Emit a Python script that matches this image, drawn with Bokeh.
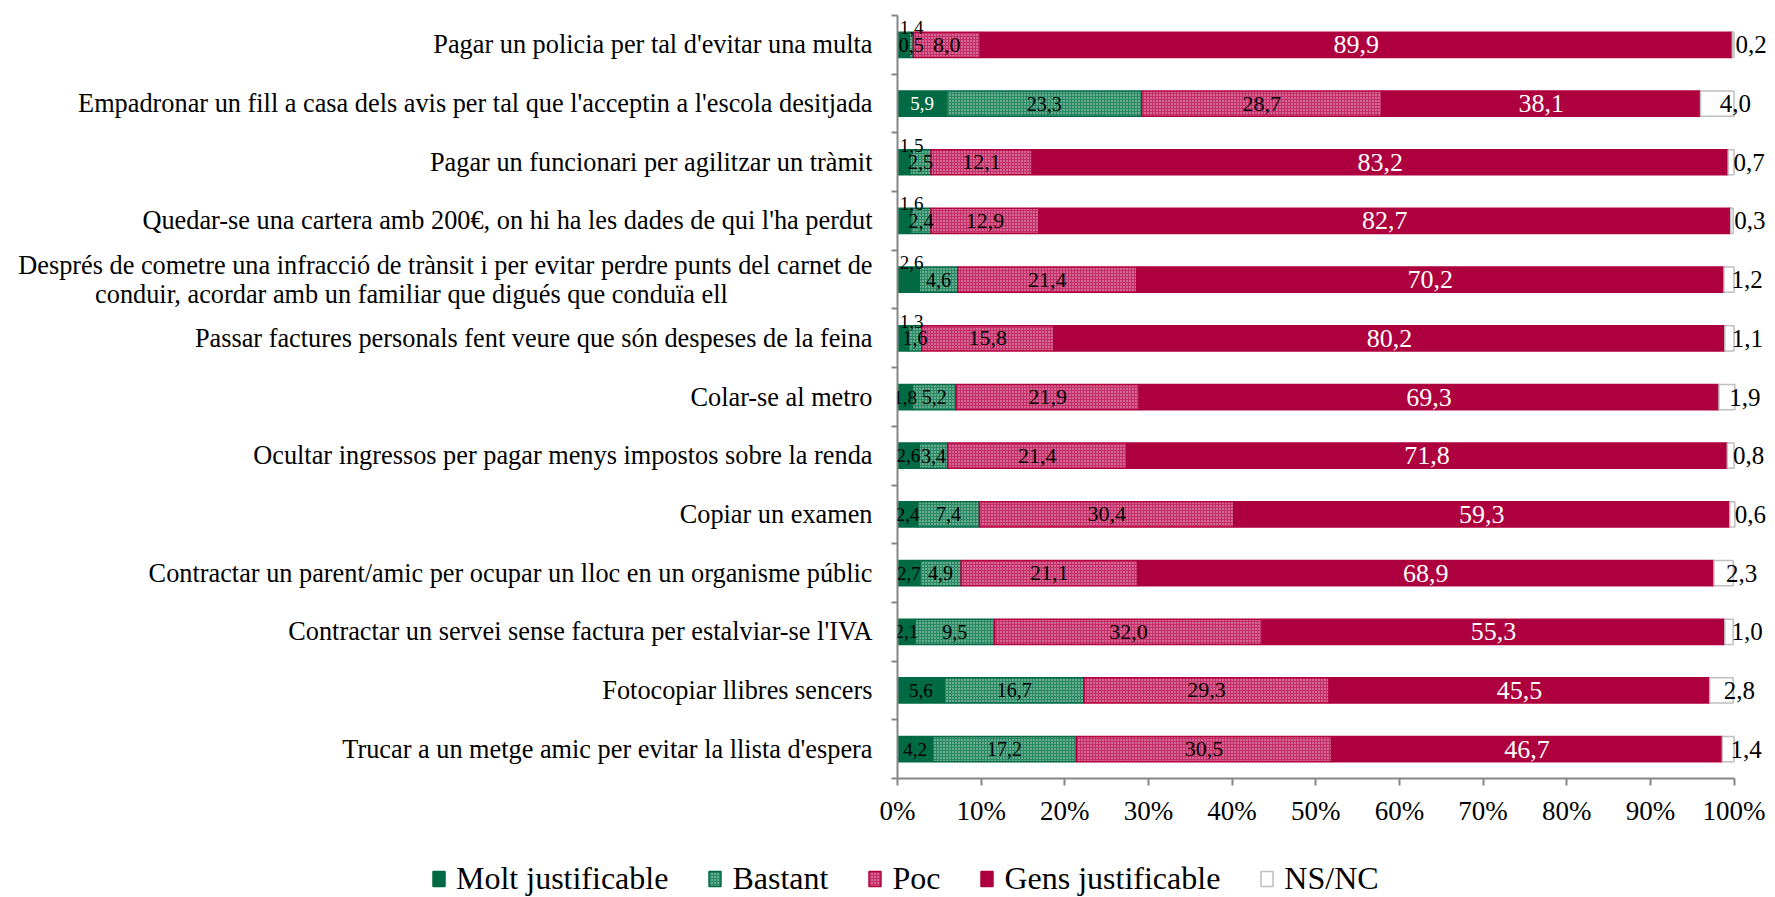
from bokeh.plotting import figure
from bokeh.models import Range1d, FixedTicker, ColumnDataSource, Legend, LegendItem, LabelSet
from bokeh.embed import file_html
from bokeh.resources import INLINE
import numpy as np

categories = [
    "Pagar un policia per tal d'evitar una multa",
    "Empadronar un fill a casa dels avis per tal que l'acceptin a l'escola desitjada",
    "Pagar un funcionari per agilitzar un tràmit",
    "Quedar-se una cartera amb 200€, on hi ha les dades de qui l'ha perdut",
    "Després de cometre una infracció de trànsit i per evitar perdre punts del carnet de\nconduir, acordar amb un familiar que digués que conduïa ell" + "\u00a0" * 22,
    "Passar factures personals fent veure que són despeses de la feina",
    "Colar-se al metro",
    "Ocultar ingressos per pagar menys impostos sobre la renda",
    "Copiar un examen",
    "Contractar un parent/amic per ocupar un lloc en un organisme públic",
    "Contractar un servei sense factura per estalviar-se l'IVA",
    "Fotocopiar llibres sencers",
    "Trucar a un metge amic per evitar la llista d'espera",
]
molt = [1.4, 5.9, 1.5, 1.6, 2.6, 1.3, 1.8, 2.6, 2.4, 2.7, 2.1, 5.6, 4.2]
bastant = [0.5, 23.3, 2.5, 2.4, 4.6, 1.6, 5.2, 3.4, 7.4, 4.9, 9.5, 16.7, 17.2]
poc = [8.0, 28.7, 12.1, 12.9, 21.4, 15.8, 21.9, 21.4, 30.4, 21.1, 32.0, 29.3, 30.5]
gens = [89.9, 38.1, 83.2, 82.7, 70.2, 80.2, 69.3, 71.8, 59.3, 68.9, 55.3, 45.5, 46.7]
nsnc = [0.2, 4.0, 0.7, 0.3, 1.2, 1.1, 1.9, 0.8, 0.6, 2.3, 1.0, 2.8, 1.4]
series_names = ["Molt justificable", "Bastant", "Poc", "Gens justificable", "NS/NC"]
x_ticks = list(range(0, 101, 10))
x_tick_labels = [f"{t}%" for t in x_ticks]

# label styling for the first series (style only)
molt_label_colors = ["black", "white"] + ["black"] * 11
molt_label_above = [True, False, True, True, True, True] + [False] * 7

SERIF = "Liberation Serif"
n = len(categories)
ys = list(range(n))

p = figure(width=1770, height=845,
           x_range=Range1d(0, 104.36), y_range=Range1d(n - 0.5, -0.756),
           output_backend="svg", toolbar_location=None,
           min_border_left=897, min_border_right=0,
           min_border_top=0, min_border_bottom=67)
p.outline_line_color = None
p.xgrid.visible = False
p.ygrid.visible = False
p.background_fill_color = "white"
p.border_fill_color = "white"

series = [molt, bastant, poc, gens, nsnc]
styles = [
    dict(fill_color="#006A45", line_color="#006A45"),
    dict(fill_color="#2A8A64", line_color="#006A45", hatch_pattern="dot",
         hatch_color="white", hatch_alpha=0.7, hatch_scale=3, hatch_weight=1.2),
    dict(fill_color="#C4306A", line_color="#B5003F", hatch_pattern="dot",
         hatch_color="white", hatch_alpha=0.65, hatch_scale=3, hatch_weight=1.2),
    dict(fill_color="#AE003E", line_color="#AE003E"),
    dict(fill_color="white", line_color="#BFBFBF"),
]
label_sizes = ["19px", "20px", "22px", "26px", "25px"]

arr = np.array(series, dtype=float)
rights = np.cumsum(arr, axis=0)
lefts = rights - arr

sources = []
for k, name in enumerate(series_names):
    src = ColumnDataSource(dict(y=ys, left=lefts[k], right=rights[k]))
    sources.append(src)
    p.hbar(y="y", left="left", right="right", height=0.43, source=src,
           line_width=1.5, **styles[k])

    vals = arr[k]
    texts = [f"{v:.1f}".replace(".", ",") for v in vals]
    xs = list((lefts[k] + rights[k]) / 2)
    xoff = [0] * n
    yoff = [0] * n
    if k == 0:
        colors = molt_label_colors
        for i in range(n):
            if molt_label_above[i]:
                # label sits just above the bar, kept right of the axis
                xs[i] = lefts[k][i]
                xoff[i] = 14
                yoff[i] = 17
    elif k == 3:
        colors = ["white"] * n
    else:
        colors = ["black"] * n
    if k == 4:
        xoff = [18] * n
    lsrc = ColumnDataSource(dict(x=xs, y=ys, text=texts, c=colors, xo=xoff, yo=yoff))
    p.add_layout(LabelSet(x="x", y="y", text="text", source=lsrc, text_color="c",
                          x_offset="xo", y_offset="yo",
                          text_align="center", text_baseline="middle",
                          text_font=SERIF, text_font_size=label_sizes[k]))

# y axis: labels at centres, small ticks at boundaries
yax = p.yaxis[0]
yax.bounds = (-0.5, n - 0.5)
yax.ticker = FixedTicker(ticks=ys, minor_ticks=[i - 0.5 for i in range(n + 1)])
yax.major_label_overrides = {i: c for i, c in enumerate(categories)}
yax.major_tick_line_color = None
yax.major_tick_in = 0
yax.major_tick_out = 0
yax.minor_tick_in = 0
yax.minor_tick_out = 6
yax.minor_tick_line_color = "#868686"
yax.minor_tick_line_width = 2
yax.axis_line_color = "#868686"
yax.axis_line_width = 2
yax.major_label_standoff = 19
yax.major_label_text_font = SERIF
yax.major_label_text_font_size = "26.3px"
yax.major_label_text_color = "black"
yax.major_label_text_line_height = 1.0

xax = p.xaxis[0]
xax.bounds = (0, 100)
xax.ticker = FixedTicker(ticks=x_ticks, minor_ticks=[])
xax.major_label_overrides = {t: l for t, l in zip(x_ticks, x_tick_labels)}
xax.major_tick_in = 0
xax.major_tick_out = 7
xax.major_tick_line_color = "#868686"
xax.major_tick_line_width = 2
xax.axis_line_color = "#868686"
xax.axis_line_width = 2
xax.major_label_standoff = 10
xax.major_label_text_font = SERIF
xax.major_label_text_font_size = "27px"
xax.major_label_text_color = "black"

# legend strip below the chart (its bars are hidden; only the legend shows)
pl = figure(width=1770, height=52, x_range=Range1d(0, 100), y_range=Range1d(-20, -19),
            output_backend="svg", toolbar_location=None,
            x_axis_type=None, y_axis_type=None,
            min_border_left=0, min_border_right=0, min_border_top=0, min_border_bottom=0)
pl.outline_line_color = None
pl.xgrid.visible = False
pl.ygrid.visible = False
items = []
for k, name in enumerate(series_names):
    r = pl.hbar(y="y", left="left", right="right", height=0.43, source=sources[k],
                line_width=1.5, **styles[k])
    r.visible = False
    items.append(LegendItem(label=name, renderers=[r]))
legend = Legend(items=items, orientation="horizontal", location=(431, 0),
                label_text_font=SERIF, label_text_font_size="32px",
                label_text_color="black",
                glyph_width=15, glyph_height=19, label_standoff=10, spacing=39,
                padding=0, margin=0, border_line_color=None,
                background_fill_alpha=0)
pl.add_layout(legend, "center")

open("out.html", "w").write(file_html([p, pl], INLINE))
